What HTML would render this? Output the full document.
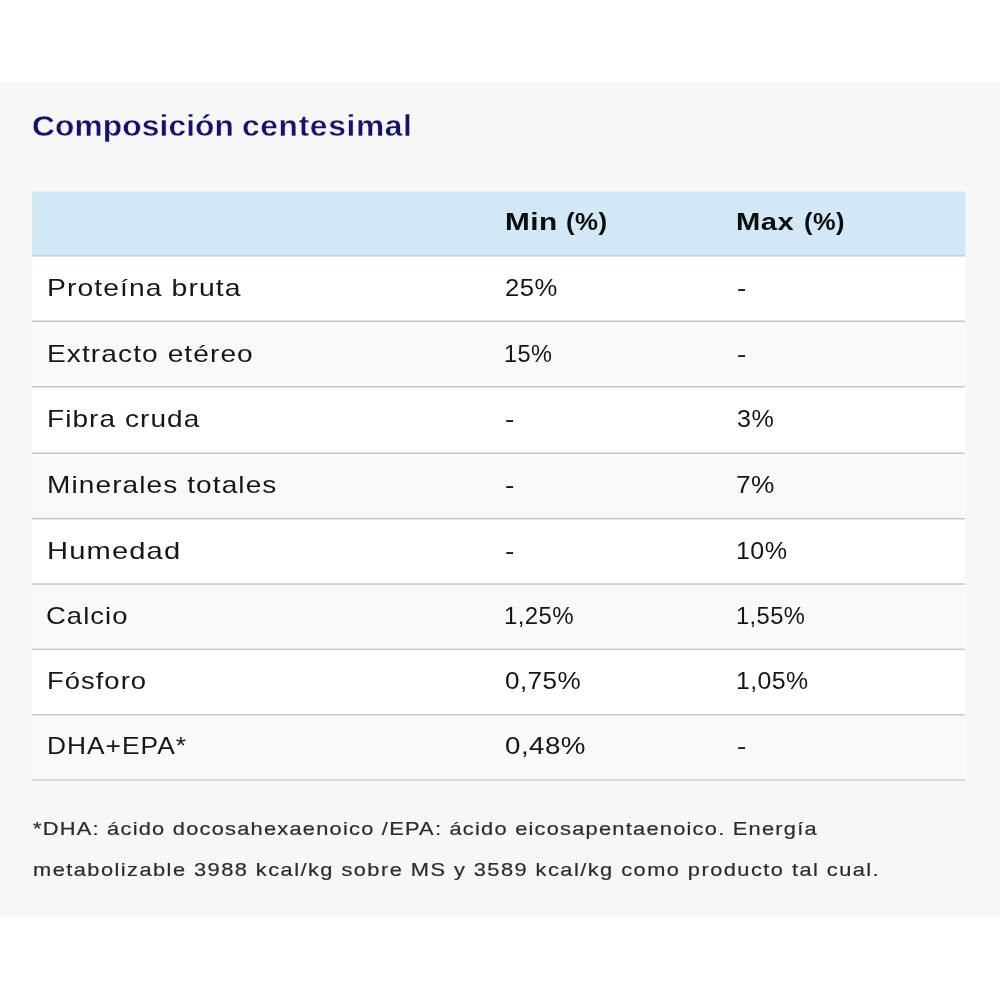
<!DOCTYPE html>
<html lang="es">
<head>
<meta charset="utf-8">
<title>Composición centesimal</title>
<style>
html,body{margin:0;padding:0;background:#fff}
body{width:1000px;height:1000px;position:relative;overflow:hidden;font-family:'Liberation Sans', sans-serif}
.sec{position:absolute;left:0;top:82px;width:1000px;height:835px;background:#f7f7f7;border-top:1px solid #fbfbfb;box-sizing:border-box}
h2,p{margin:0;font-weight:inherit;font-size:inherit}
.t{position:absolute;white-space:nowrap;line-height:1;transform-origin:0 0;margin:0}
.ttl .t{-webkit-text-stroke:0.35px #f7f7f7}
p .t{-webkit-text-stroke:0.2px #2c2c2c}
.tbl{position:absolute;left:32px;top:191px;width:933px;height:590px;border-right:1px solid rgba(255,255,255,.3)}
.tbl div{position:absolute;left:0;width:100%}
.hd{top:0;height:65px;background:#d1e9f7;border-top:1px solid #e2eff7;box-sizing:border-box}
.hd:after{content:"";position:absolute;right:-1px;top:0;width:1px;height:100%;background:rgba(209,233,247,.35)}
.ln{height:2px}
</style>
</head>
<body>
<section class="sec"></section>
<div class="tbl">
<div class="hd"></div>
<div style="top:65px;height:65px;background:#ffffff"></div>
<div style="top:130px;height:66px;background:#f9f9f9"></div>
<div style="top:196px;height:66px;background:#ffffff"></div>
<div style="top:262px;height:66px;background:#f9f9f9"></div>
<div style="top:328px;height:65px;background:#ffffff"></div>
<div style="top:393px;height:65px;background:#f9f9f9"></div>
<div style="top:458px;height:66px;background:#ffffff"></div>
<div style="top:524px;height:65px;background:#f9f9f9"></div>
<div class="ln" style="top:64px;background:linear-gradient(#c2d0d8 50%,#e0e2e6 50%)"></div>
<div class="ln" style="top:129px;background:linear-gradient(#e3e3e3 50%,#c8c8c8 50%)"></div>
<div class="ln" style="top:195px;background:linear-gradient(#c6c6c6 50%,#e3e3e3 50%)"></div>
<div class="ln" style="top:261px;background:linear-gradient(#e3e3e3 50%,#c8c8c8 50%)"></div>
<div class="ln" style="top:327px;background:linear-gradient(#c6c6c6 50%,#e3e3e3 50%)"></div>
<div class="ln" style="top:392px;background:linear-gradient(#d3d3d3 50%,#d1d1d1 50%)"></div>
<div class="ln" style="top:457px;background:linear-gradient(#e3e3e3 50%,#c8c8c8 50%)"></div>
<div class="ln" style="top:523px;background:linear-gradient(#c6c6c6 50%,#e3e3e3 50%)"></div>
<div class="ln" style="top:588px;background:linear-gradient(#d8d8d8 50%,#d8d8d8 50%)"></div>
</div>
<h2 class="ttl"><span class="t" style="left:32.36px;top:110.89px;font-size:29.9px;font-weight:bold;color:#14126b;letter-spacing:0.119px;transform:scaleX(1.06)">Composición</span> <span class="t" style="left:242.39px;top:110.89px;font-size:29.9px;font-weight:bold;color:#14126b;letter-spacing:0.640px;transform:scaleX(1.06)">centesimal</span></h2>
<div class="th"><span class="t" style="left:504.80px;top:211.43px;font-size:23.0px;font-weight:bold;color:#0c0c0c;letter-spacing:0.400px;transform:scaleX(1.2943)">Min</span> <span class="t" style="left:566.48px;top:211.43px;font-size:23.0px;font-weight:bold;color:#0c0c0c;letter-spacing:0.400px;transform:scaleX(1.1237)">(%)</span></div>
<div class="th"><span class="t" style="left:735.90px;top:211.43px;font-size:23.0px;font-weight:bold;color:#0c0c0c;letter-spacing:0.400px;transform:scaleX(1.2677)">Max</span> <span class="t" style="left:803.70px;top:211.43px;font-size:23.0px;font-weight:bold;color:#0c0c0c;letter-spacing:0.400px;transform:scaleX(1.1062)">(%)</span></div>
<div class="tr"><span class="t" style="left:46.66px;top:277.44px;font-size:23.4px;font-weight:normal;color:#161616;letter-spacing:0.900px;transform:scaleX(1.2091)">Proteína bruta</span><span class="t" style="left:504.70px;top:277.44px;font-size:23.4px;font-weight:normal;color:#161616;letter-spacing:0.400px;transform:scaleX(1.0956)">25%</span><span class="t" style="left:736.72px;top:277.44px;font-size:23.4px;font-weight:normal;color:#161616;letter-spacing:0.000px;transform:scaleX(1.2)">-</span></div>
<div class="tr"><span class="t" style="left:46.68px;top:342.69px;font-size:23.4px;font-weight:normal;color:#161616;letter-spacing:0.900px;transform:scaleX(1.2016)">Extracto etéreo</span><span class="t" style="left:504.21px;top:342.69px;font-size:23.4px;font-weight:normal;color:#161616;letter-spacing:0.400px;transform:scaleX(1.0065)">15%</span><span class="t" style="left:736.72px;top:342.69px;font-size:23.4px;font-weight:normal;color:#161616;letter-spacing:0.000px;transform:scaleX(1.2)">-</span></div>
<div class="tr"><span class="t" style="left:46.69px;top:408.19px;font-size:23.4px;font-weight:normal;color:#161616;letter-spacing:0.900px;transform:scaleX(1.196)">Fibra cruda</span><span class="t" style="left:504.72px;top:408.19px;font-size:23.4px;font-weight:normal;color:#161616;letter-spacing:0.000px;transform:scaleX(1.2)">-</span><span class="t" style="left:736.52px;top:408.19px;font-size:23.4px;font-weight:normal;color:#161616;letter-spacing:0.400px;transform:scaleX(1.0731)">3%</span></div>
<div class="tr"><span class="t" style="left:46.68px;top:473.69px;font-size:23.4px;font-weight:normal;color:#161616;letter-spacing:0.900px;transform:scaleX(1.1994)">Minerales totales</span><span class="t" style="left:504.72px;top:473.69px;font-size:23.4px;font-weight:normal;color:#161616;letter-spacing:0.000px;transform:scaleX(1.2)">-</span><span class="t" style="left:736.44px;top:473.69px;font-size:23.4px;font-weight:normal;color:#161616;letter-spacing:0.400px;transform:scaleX(1.1235)">7%</span></div>
<div class="tr"><span class="t" style="left:46.59px;top:539.69px;font-size:23.4px;font-weight:normal;color:#161616;letter-spacing:0.900px;transform:scaleX(1.246)">Humedad</span><span class="t" style="left:504.72px;top:539.69px;font-size:23.4px;font-weight:normal;color:#161616;letter-spacing:0.000px;transform:scaleX(1.2)">-</span><span class="t" style="left:735.80px;top:539.69px;font-size:23.4px;font-weight:normal;color:#161616;letter-spacing:0.400px;transform:scaleX(1.0718)">10%</span></div>
<div class="tr"><span class="t" style="left:45.96px;top:604.69px;font-size:23.4px;font-weight:normal;color:#161616;letter-spacing:0.900px;transform:scaleX(1.1716)">Calcio</span><span class="t" style="left:504.18px;top:604.69px;font-size:23.4px;font-weight:normal;color:#161616;letter-spacing:0.400px;transform:scaleX(1.0241)">1,25%</span><span class="t" style="left:736.00px;top:604.69px;font-size:23.4px;font-weight:normal;color:#161616;letter-spacing:0.400px;transform:scaleX(1.0136)">1,55%</span></div>
<div class="tr"><span class="t" style="left:46.73px;top:670.19px;font-size:23.4px;font-weight:normal;color:#161616;letter-spacing:0.900px;transform:scaleX(1.1687)">Fósforo</span><span class="t" style="left:504.95px;top:670.19px;font-size:23.4px;font-weight:normal;color:#161616;letter-spacing:0.400px;transform:scaleX(1.1139)">0,75%</span><span class="t" style="left:735.80px;top:670.19px;font-size:23.4px;font-weight:normal;color:#161616;letter-spacing:0.400px;transform:scaleX(1.0631)">1,05%</span></div>
<div class="tr"><span class="t" style="left:46.82px;top:735.19px;font-size:23.4px;font-weight:normal;color:#161616;letter-spacing:0.900px;transform:scaleX(1.1251)">DHA+EPA*</span><span class="t" style="left:504.89px;top:735.19px;font-size:23.4px;font-weight:normal;color:#161616;letter-spacing:0.400px;transform:scaleX(1.1847)">0,48%</span><span class="t" style="left:736.72px;top:735.19px;font-size:23.4px;font-weight:normal;color:#161616;letter-spacing:0.000px;transform:scaleX(1.2)">-</span></div>
<p><span class="t" style="left:33.05px;top:819.79px;font-size:18.2px;font-weight:normal;color:#2c2c2c;letter-spacing:1.029px;transform:scaleX(1.2)">*DHA: ácido docosahexaenoico /EPA: ácido eicosapentaenoico. Energía</span> <span class="t" style="left:32.91px;top:860.79px;font-size:18.2px;font-weight:normal;color:#2c2c2c;letter-spacing:1.206px;transform:scaleX(1.2)">metabolizable 3988 kcal/kg sobre MS y 3589 kcal/kg como producto tal cual.</span></p>
</body>
</html>
